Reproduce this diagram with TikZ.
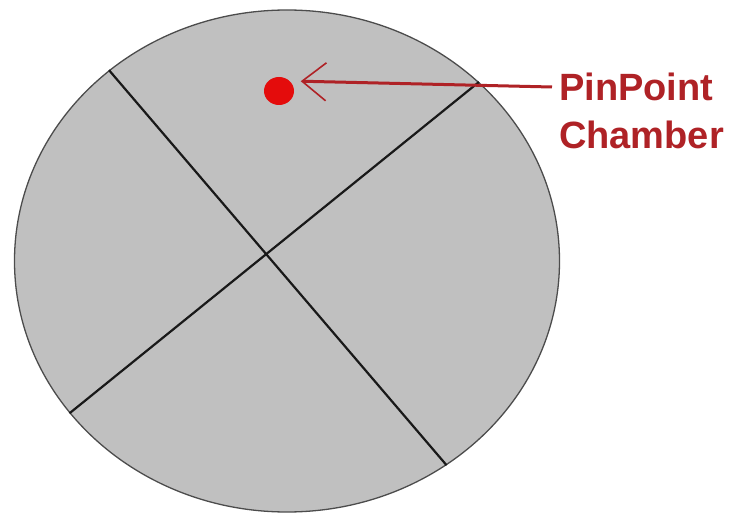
\documentclass[tikz,border=0pt]{standalone}
\usepackage{fontspec}
\setmainfont{Liberation Sans}
\usepackage{xcolor}
\usetikzlibrary{shapes.geometric,arrows.meta,positioning}
\definecolor{platefill}{RGB}{192,192,192}
\definecolor{pinred}{RGB}{228,12,12}
\definecolor{labelred}{RGB}{175,34,38}

\begin{document}
\begin{tikzpicture}[x=1pt, y=-1pt,
    plate/.style={ellipse, draw=black!70, line width=1.3pt, fill=platefill, minimum width=545pt, minimum height=502pt, inner sep=0pt},
    cut/.style={draw=black!90, line width=2.2pt},
    pin/.style={ellipse, fill=pinred, minimum width=30pt, minimum height=28pt, inner sep=0pt},
    arrow/.style={draw=labelred, line width=3pt, -{Straight Barb[length=24pt, width=38pt, line width=1.6pt]}},
    label/.style={text=labelred, font=\fontsize{38}{48}\selectfont\bfseries, align=left, inner sep=0pt}
]
    \useasboundingbox (0,0) rectangle (732,516);

    % Plate with the two cuts
    \node[plate] (plate) at (287,261) {};
    \draw[cut] (plate.133) -- (plate.-52);
    \draw[cut] (plate.215) -- (plate.43);

    % Chamber and its label
    \node[pin] (pin) at (279,91) {};
    \node[label, anchor=north west] (chamber) at (559,73) {PinPoint\\Chamber};
    \coordinate (foot) at (552,87);

    % Arrow
    \path[arrow, shorten >=11pt] (foot) -- (pin.north east);
\end{tikzpicture}
\end{document}
